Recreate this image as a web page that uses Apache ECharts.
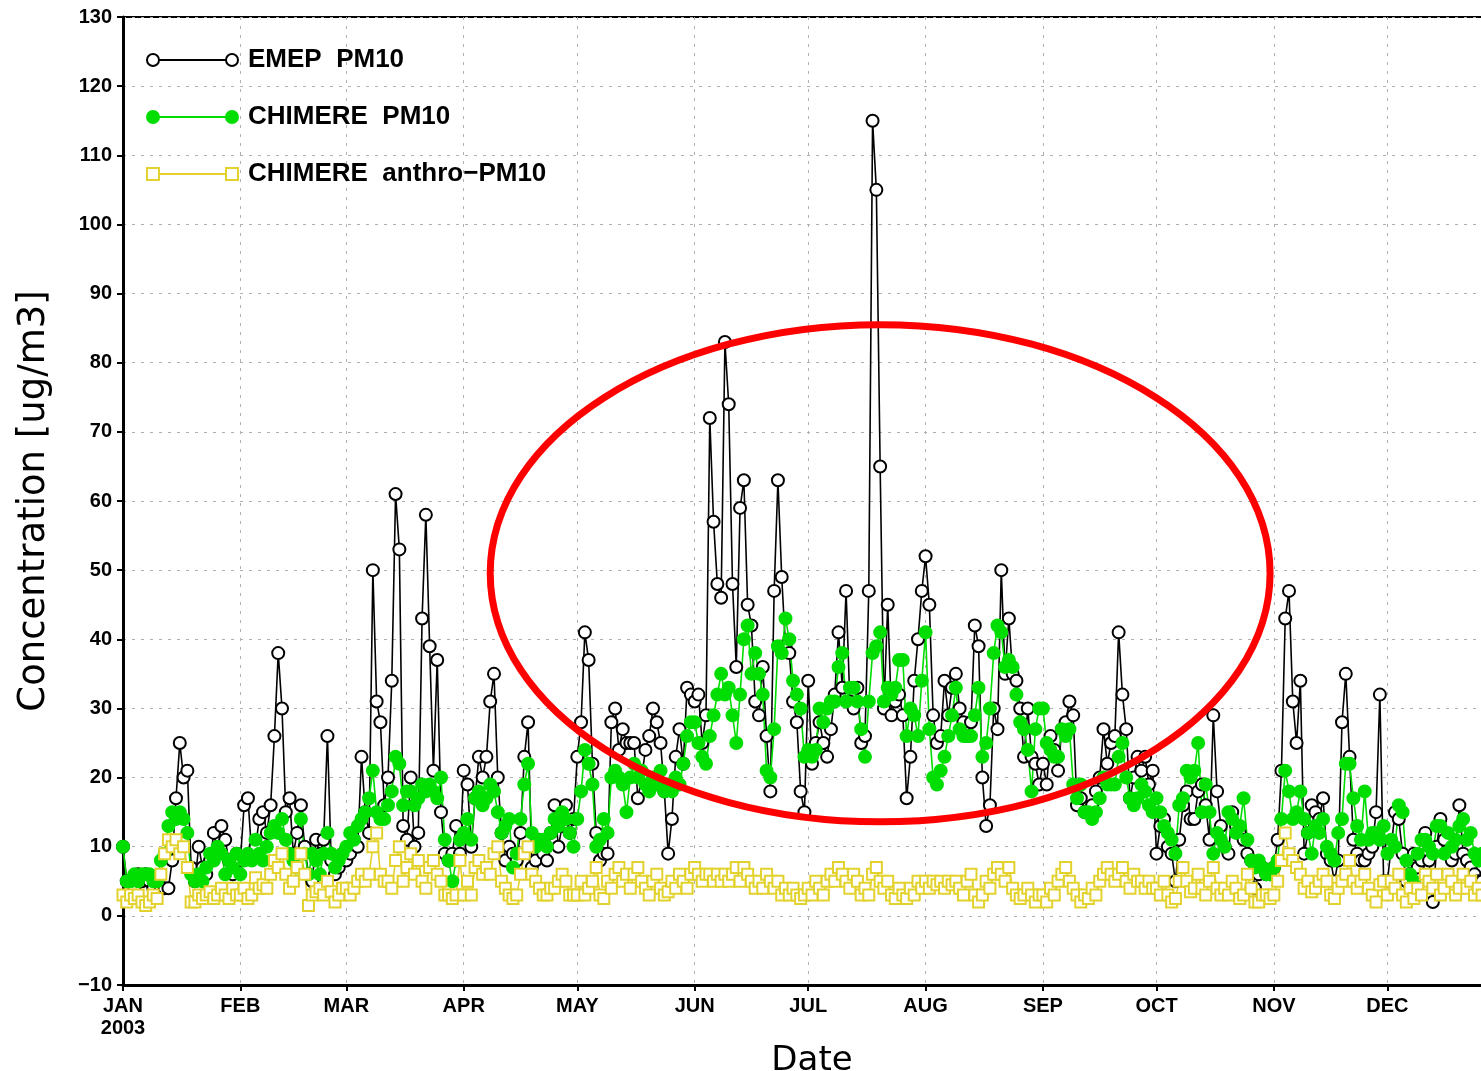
<!DOCTYPE html>
<html>
<head>
<meta charset="utf-8">
<title>PM10 2003</title>
<script src="https://cdn.jsdelivr.net/npm/echarts@6/dist/echarts.min.js"></script>
<style>
html,body{margin:0;padding:0;background:#fff;overflow:hidden;}
#main{width:1481px;height:1071px;}
</style>
</head>
<body>
<div id="main"></div>
<script>
// months of 2003; the axis runs to Dec 31 but the picture is cut around Dec 25
var monthNames = ['JAN','FEB','MAR','APR','MAY','JUN','JUL','AUG','SEP','OCT','NOV','DEC'];
var monthDays = [31,28,31,30,31,30,31,31,30,31,30,31];

var yTicks = [-10, 130, 10]; // min, max, step

// daily means, one row per month (values only as far as the picture shows)
var emep = [
  10,5,5,4,6,5,6,5,4,5,4,4,4,8,17,25,20,21,7,5,10,7,6,8,12,9,13,11,8,6,9,
  8,16,17,9,10,14,15,12,16,26,38,30,15,17,9,12,16,10,6,5,11,9,11,26,8,6,7,9,
  8,9,11,10,23,15,12,50,31,28,16,20,34,61,53,13,11,20,10,12,43,58,39,21,37,15,9,8,9,13,9,
  21,19,10,17,23,20,23,31,35,20,12,8,10,9,8,12,23,28,7,8,10,9,8,12,16,10,13,16,12,14,
  23,28,41,37,22,12,8,9,9,28,30,24,27,25,25,25,17,20,24,26,30,28,25,18,9,14,23,27,22,33,32,
  31,32,25,29,72,57,48,46,83,74,48,36,59,63,45,42,31,29,36,26,18,47,63,49,39,38,31,28,18,15,
  34,22,25,28,25,23,27,32,41,33,47,31,30,33,25,26,47,115,105,65,30,45,29,31,32,29,17,23,34,40,47,
  52,45,29,25,26,34,29,33,35,30,28,26,28,42,39,20,13,16,30,27,50,35,43,35,34,30,23,30,23,22,19,
  22,19,26,24,21,27,28,31,29,16,17,15,15,16,18,20,27,22,25,26,41,32,27,17,20,23,21,23,19,21,
  9,13,14,10,9,5,11,16,18,14,14,18,19,16,11,29,18,13,10,9,15,13,12,11,9,8,4,6,7,6,6,
  7,11,21,43,47,31,25,34,9,12,16,15,14,17,9,8,5,8,28,35,23,11,9,8,8,9,10,15,32,5,
  5,10,15,14,9,5,6,9,7,8,12,8,2,10,14,11,9,8,9,16,9,8,7,6,5,5
];
var chimere = [
  10,5,5,6,5,6,6,6,5,5,8,9,13,15,14,15,14,12,6,5,6,5,7,9,8,10,9,6,8,7,9,
  6,8,9,8,11,9,8,10,12,13,12,14,11,9,8,7,14,9,6,9,8,6,9,12,9,7,8,9,
  10,12,11,13,14,15,17,21,15,14,14,16,18,23,22,16,18,18,16,17,19,18,19,18,17,20,11,8,5,8,11,
  12,14,11,17,18,16,17,19,18,15,12,13,14,7,9,14,19,22,12,10,11,11,10,12,14,13,15,14,12,10,
  14,18,24,22,19,10,11,14,12,20,21,20,19,15,20,22,20,21,19,18,20,19,21,18,19,18,20,19,22,26,28,
  28,25,23,22,26,29,32,35,32,33,29,25,32,40,42,35,38,35,32,21,20,27,39,38,43,40,34,32,30,23,
  24,23,24,30,28,30,31,31,36,38,31,33,33,31,27,23,31,38,39,41,31,33,32,33,37,37,26,30,29,26,34,
  41,27,20,19,21,23,26,29,33,27,26,26,26,29,33,23,25,30,38,42,41,36,37,36,32,28,27,24,18,27,30,
  30,25,24,23,23,27,26,27,19,17,19,15,15,14,15,17,20,19,19,19,23,25,20,17,16,17,19,18,16,15,
  17,15,13,12,11,9,16,17,21,20,21,25,15,19,15,9,12,11,10,15,14,12,13,17,11,8,7,8,7,6,6,
  7,8,14,21,18,14,15,18,14,12,9,13,12,14,10,9,8,12,14,22,22,17,13,11,18,11,12,12,11,13,
  9,11,10,16,15,8,6,5,9,11,11,10,9,13,13,9,12,10,11,13,14,11,12,9,8,9
];
var anthro = [
  3,2,3,2.5,3,2,1.5,2,3,2.5,6,9,11,10,11,9,10,7,2,2,3,2.5,3,3.5,2.5,3,4,3,2.5,4,3,
  3,4,2.5,3,5.5,4,4.5,4,6,8,7,9,6,4,5,7,9,6,1.5,3,3.5,4,3,5,3.5,2,3,4,
  4,3,4,5,6,5,6,10,12,6,5,5,4,8,10,5,7,9,6,8,5,4,7,8,6,5,3,3,2.5,3,8,
  3,5,3,7,8,6,7,6,9,10,5,4,3,2.5,3,6,9,10,6,5,4,3,3,4,4,5,6,5,3,3,
  3,5,3,4,5,7,3,2.5,5,4,6,7,5,6,4,6,7,5,4,3,5,6,4,3,3.5,5,4,6,5,4,6,
  7,6,5,6,6,5,6,5,6,5,6,7,5,7,6,5,4,5,4,6,5,4,5,3,4,3,4,3,2.5,3,
  4,3,5,4,3,5,6,5,7,6,5,4,6,5,3,4,3,6,7,5,4,5,3,2.5,4,3,2.5,4,3,5,4,
  5,4,5,4.5,5,4,5,4.5,5,4,3,5,6,3,2,3,5,4,6,7,6,5,7,4,3,2.5,3,4,3,2,3,
  3,2,4,3,5,6,7,5,4,3,2,3,2.5,4,3,5,6,7,6,5,6,7,5,4,6,5,5,4,5,4,
  4,3,5,3,2,2.5,5,7,5,3.5,4,6,4,3,5,7,4,3,4,3,5,4,2.5,3,6,4,2,2,3,3,2.5,
  3,5,8,12,9,8,7,6,4,5,3.5,4,5,6,5,3,2.5,4,5,6,8,5,4,5,6,4,3,2,4.5,5,
  3,5,4,6,3,2,4,2.5,4,3,6,5,4,6,3,4,6,5,3,4,6,4,5,3,4,3
];
var seriesNames = ['EMEP  PM10', 'CHIMERE  PM10', 'CHIMERE  anthro\u2212PM10'];

// red ring: day from, day to, value low, value high
var ringBox = [96.8, 303.4, 13.6, 85.5];

// day categories for the whole year
var days = [];
for (var m = 0; m < 12; m++) {
  for (var d = 1; d <= monthDays[m]; d++) {
    days.push('2003-' + (m < 9 ? '0' : '') + (m + 1) + '-' + (d < 10 ? '0' : '') + d);
  }
}
function isMonthStart(i) { return days[i].slice(8) === '01'; }

var font = "'DejaVu Sans', sans-serif";
var tickFont = "'Liberation Sans', Arial, sans-serif";
var styles = [
  {color:'#000000', fill:'#ffffff', symbol:'circle'},
  {color:'#00dd00', fill:'#00dd00', symbol:'circle'},
  {color:'#e3d22e', fill:'#ffffff', symbol:'rect'}
];
var values = [emep, chimere, anthro];

var myChart = echarts.init(document.getElementById('main'));

var option = {
  animation: false,
  backgroundColor: '#fff',
  grid: {
    left: 123, top: 17, right: -20, bottom: 86,
    containLabel: false, outerBoundsMode: 'none',
    show: true, borderColor: '#000', borderWidth: 2
  },
  xAxis: {
    type: 'category',
    data: days,
    boundaryGap: false,
    name: 'Date',
    nameLocation: 'middle',
    nameGap: 46,
    nameTextStyle: {fontSize: 34, fontFamily: font, color: '#000'},
    axisLine: {onZero: false, lineStyle: {color: '#000', width: 3}},
    axisTick: {interval: isMonthStart, length: 6, lineStyle: {color: '#000', width: 2}},
    axisLabel: {
      interval: isMonthStart,
      color: '#000', fontSize: 20, fontWeight: 'bold', fontFamily: tickFont,
      lineHeight: 22, margin: 10,
      formatter: function (v) {
        var mi = parseInt(v.slice(5, 7), 10) - 1;
        return mi === 0 ? 'JAN\n2003' : monthNames[mi];
      }
    },
    splitLine: {show: true, interval: isMonthStart, lineStyle: {color: '#b0b0b0', type: [3, 6], width: 1}}
  },
  yAxis: {
    type: 'value',
    min: yTicks[0], max: yTicks[1], interval: yTicks[2],
    name: 'Concentration [ug/m3]',
    nameLocation: 'middle',
    nameRotate: 90,
    nameGap: 70,
    nameTextStyle: {fontSize: 37, fontFamily: font, color: '#000'},
    axisLine: {show: true, lineStyle: {color: '#000', width: 3}},
    axisTick: {show: true, length: 6, lineStyle: {color: '#000', width: 2}},
    axisLabel: {
      color: '#000', fontSize: 20, fontWeight: 'bold', fontFamily: tickFont, margin: 11,
      formatter: function (v) { return v < 0 ? '\u2212' + (-v) : String(v); }
    },
    splitLine: {show: true, lineStyle: {color: '#b0b0b0', type: [3, 6], width: 1}}
  },
  series: values.map(function (vals, k) {
    var s = styles[k];
    return {
      name: seriesNames[k],
      type: 'line',
      data: vals,
      symbol: s.symbol,
      symbolSize: k === 2 ? 11 : 12,
      showAllSymbol: true,
      lineStyle: {color: s.color, width: 1.6},
      itemStyle: {color: s.fill, borderColor: s.color, borderWidth: 2}
    };
  })
};
myChart.setOption(option);

// legend drawn like the original: line with a marker at both ends
var extras = [];
seriesNames.forEach(function (nm, k) {
  var s = styles[k];
  var y = 60 + k * 57;
  extras.push({type: 'line', shape: {x1: 153, y1: y, x2: 232, y2: y},
    style: {stroke: s.color, lineWidth: 2}});
  [153, 232].forEach(function (x) {
    if (s.symbol === 'rect') {
      extras.push({type: 'rect', shape: {x: x - 6, y: y - 6, width: 12, height: 12},
        style: {fill: s.fill, stroke: s.color, lineWidth: 2}});
    } else {
      extras.push({type: 'circle', shape: {cx: x, cy: y, r: 6},
        style: {fill: s.fill, stroke: s.color, lineWidth: 2}});
    }
  });
  extras.push({type: 'text', x: 248, y: y,
    style: {text: nm, fill: '#000', font: 'bold 26px ' + tickFont, verticalAlign: 'middle'}});
});

// red ring placed through the axes
var p1 = myChart.convertToPixel({xAxisIndex: 0, yAxisIndex: 0}, [ringBox[0], ringBox[3]]);
var p2 = myChart.convertToPixel({xAxisIndex: 0, yAxisIndex: 0}, [ringBox[1], ringBox[2]]);
extras.push({
  type: 'ellipse',
  shape: {cx: (p1[0] + p2[0]) / 2, cy: (p1[1] + p2[1]) / 2,
    rx: Math.abs(p2[0] - p1[0]) / 2, ry: Math.abs(p2[1] - p1[1]) / 2},
  style: {fill: null, stroke: '#ff0000', lineWidth: 7},
  z: 100
});

myChart.setOption({graphic: extras});
</script>
</body>
</html>
